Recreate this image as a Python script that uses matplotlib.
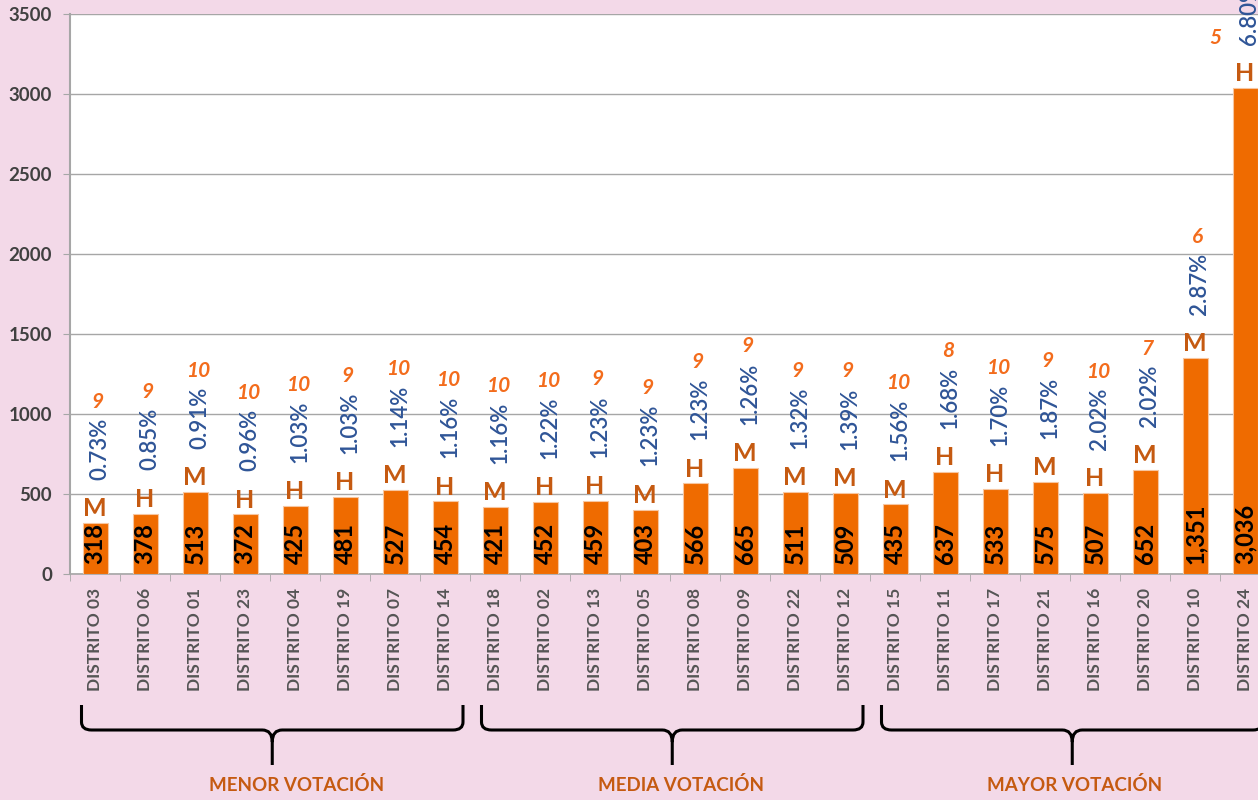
import numpy as np
import matplotlib.pyplot as plt
from matplotlib.path import Path
from matplotlib.patches import PathPatch
from matplotlib import transforms

plt.rcParams['font.family'] = ['Lato', 'DejaVu Sans']

distritos = ['DISTRITO 03', 'DISTRITO 06', 'DISTRITO 01', 'DISTRITO 23', 'DISTRITO 04', 'DISTRITO 19',
             'DISTRITO 07', 'DISTRITO 14', 'DISTRITO 18', 'DISTRITO 02', 'DISTRITO 13', 'DISTRITO 05',
             'DISTRITO 08', 'DISTRITO 09', 'DISTRITO 22', 'DISTRITO 12', 'DISTRITO 15', 'DISTRITO 11',
             'DISTRITO 17', 'DISTRITO 21', 'DISTRITO 16', 'DISTRITO 20', 'DISTRITO 10', 'DISTRITO 24']
votos = [318, 378, 513, 372, 425, 481, 527, 454, 421, 452, 459, 403,
         566, 665, 511, 509, 435, 637, 533, 575, 507, 652, 1351, 3036]
porcentajes = ['0.73%', '0.85%', '0.91%', '0.96%', '1.03%', '1.03%', '1.14%', '1.16%',
               '1.16%', '1.22%', '1.23%', '1.23%', '1.23%', '1.26%', '1.32%', '1.39%',
               '1.56%', '1.68%', '1.70%', '1.87%', '2.02%', '2.02%', '2.87%', '6.80%']
genero = ['M', 'H', 'M', 'H', 'H', 'H', 'M', 'H', 'M', 'H', 'H', 'M',
          'H', 'M', 'M', 'M', 'M', 'H', 'H', 'M', 'H', 'M', 'M', 'H']
candidatos = [9, 9, 10, 10, 10, 9, 10, 10, 10, 10, 9, 9,
              9, 9, 9, 9, 10, 8, 10, 9, 10, 7, 6, 5]
grupos = ['MENOR VOTACIÓN', 'MEDIA VOTACIÓN', 'MAYOR VOTACIÓN']
tam_grupos = [8, 8, 8]

W, H = 1258, 800
fig = plt.figure(figsize=(W / 100, H / 100), dpi=100)
fig.patch.set_facecolor('#f3d9e8')
# axes runs a bit past the right edge, like the cropped original
ax = fig.add_axes([70 / W, 226 / H, 1200 / W, 560 / H])
ax.set_facecolor('white')

x = np.arange(len(distritos))
ax.bar(x, votos, width=0.5, color='#ef6b00', edgecolor='#f7c6a0', linewidth=0.8, zorder=3)

ax.set_xlim(-0.5, len(distritos) - 0.5)
ax.set_ylim(0, 3500)
ax.set_yticks(np.arange(0, 3501, 500))
ax.grid(axis='y', color='#a6a6a6', linewidth=1, zorder=0)
for s in ['top', 'right']:
    ax.spines[s].set_visible(False)
ax.spines['left'].set_color('#a6a6a6')
ax.spines['left'].set_linewidth(1.5)
ax.spines['bottom'].set_color('#a6a6a6')
ax.spines['bottom'].set_linewidth(1.2)
ax.tick_params(axis='y', length=5, color='#a6a6a6', pad=8, labelsize=13.5, labelcolor='#404040')
for t in ax.get_yticklabels():
    t.set_fontweight('bold')
ax.set_xticks(x)
ax.set_xticklabels(distritos, rotation=90, fontsize=12.5, color='#555555', fontweight='bold')
ax.set_xticks(np.arange(-0.5, len(distritos)), minor=True)
ax.tick_params(axis='x', which='major', length=0, pad=10)
ax.tick_params(axis='x', which='minor', length=5, color='#a6a6a6')

for i, v in enumerate(votos):
    ax.annotate(f'{v:,}', (i, 0), xytext=(0, 7), textcoords='offset points', rotation=90,
                ha='center', va='bottom', fontsize=17, fontweight='bold', color='black', zorder=4)
    ax.annotate(genero[i], (i, v), xytext=(0, 2), textcoords='offset points',
                ha='center', va='bottom', fontsize=18, fontweight='bold', color='#c55a11')
    ax.annotate(porcentajes[i], (i, v), xytext=(3.5, 31), textcoords='offset points', rotation=90,
                ha='center', va='bottom', fontsize=16, fontweight='semibold', color='#2f5597')
    if v > 2500:
        # no room above the tallest bar: label moved to the left
        off = (-21, 29)
    else:
        off = (2, 80)
    ax.annotate(str(candidatos[i]), (i, v), xytext=off, textcoords='offset points',
                ha='center', va='bottom', fontsize=15, fontweight='bold', fontstyle='italic',
                color='#f36c1c')

# curly braces under the groups
tr = transforms.blended_transform_factory(ax.transData, fig.transFigure)
def fy(py):
    return 1 - py / H

r = 0.2
start = 0
lab_x = [4.04, 11.72, 19.6]
for g, n in zip(grupos, tam_grupos):
    x0 = start - 0.27
    x1 = start + n - 1 + 0.36
    xc = (x0 + x1) / 2
    verts = [(x0, fy(705)), (x0, fy(722)), (x0, fy(730)), (x0 + r, fy(730)),
             (xc - r, fy(730)), (xc, fy(730)), (xc, fy(742)), (xc, fy(765)),
             (xc, fy(742)), (xc, fy(730)), (xc + r, fy(730)),
             (x1 - r, fy(730)), (x1, fy(730)), (x1, fy(722)), (x1, fy(705))]
    codes = [Path.MOVETO, Path.LINETO, Path.CURVE3, Path.CURVE3,
             Path.LINETO, Path.CURVE3, Path.CURVE3, Path.LINETO,
             Path.MOVETO, Path.CURVE3, Path.CURVE3,
             Path.LINETO, Path.CURVE3, Path.CURVE3, Path.LINETO]
    fig.patches.append(PathPatch(Path(verts, codes), transform=tr, fill=False,
                                 edgecolor='black', linewidth=2.2, clip_on=False))
    start += n

for g, lx in zip(grupos, lab_x):
    fig.text(lx, fy(785), g, transform=tr, ha='center', va='center',
             fontsize=13.5, fontweight='bold', color='#c55a11')

fig.savefig('out.png', dpi=100, facecolor=fig.get_facecolor())
